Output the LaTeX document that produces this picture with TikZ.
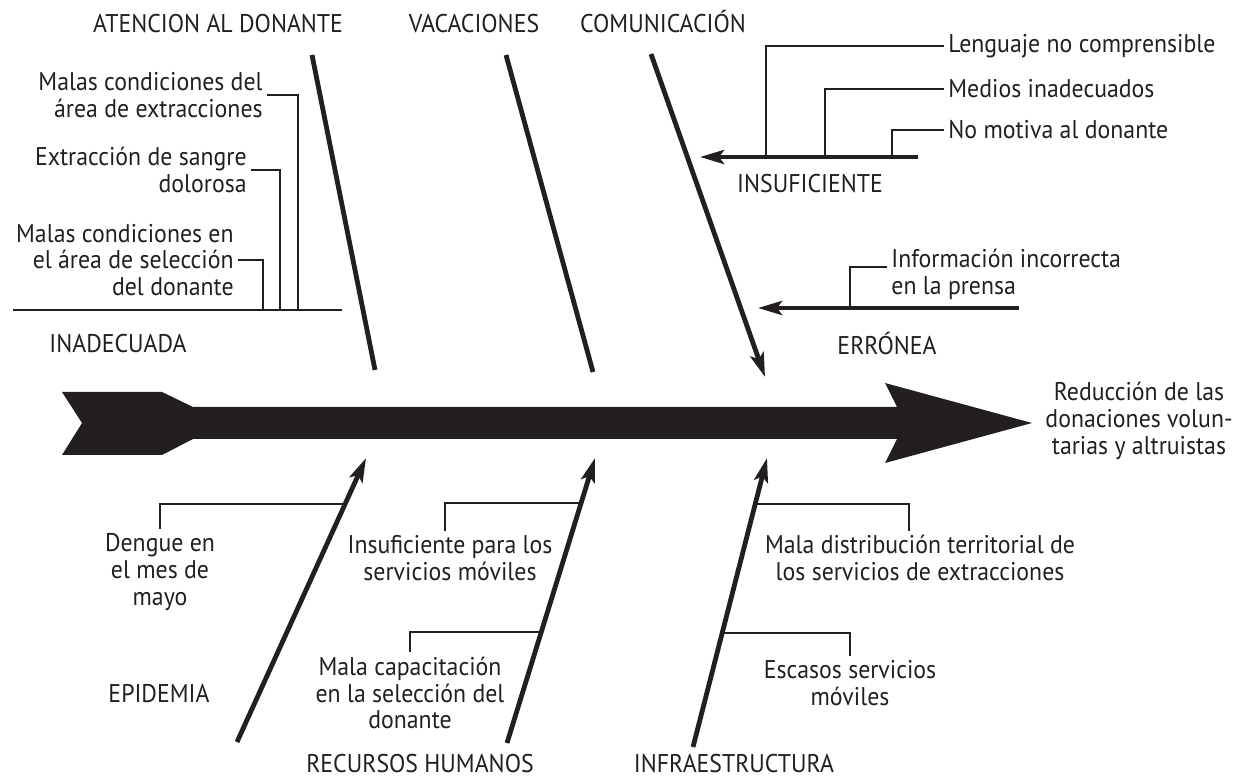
\documentclass[tikz,border=0pt]{standalone}
\usepackage{fontspec}
\setmainfont{PT Sans}[FakeStretch=0.93]
\usetikzlibrary{arrows.meta,calc}
\definecolor{ink}{RGB}{35,31,32}

\begin{document}
\begin{tikzpicture}[x=0.5pt, y=-0.5pt,
        every node/.style={font=\fontsize{12.8pt}{13.4pt}\selectfont, text=ink, inner sep=2pt},
        bone/.style={draw=ink, line width=2.4pt},
        bonearrow/.style={bone, -{Stealth[length=12pt, width=7pt, inset=2.5pt]}},
        twig/.style={draw=ink, line width=1.1pt}]
        \useasboundingbox (0,0) rectangle (1240,779);
        % spine
        \fill[ink] (62,392) -- (162,392) -- (193,407) -- (897,407) -- (885,383) -- (1032,423)
            -- (885,463) -- (897,439) -- (193,439) -- (162,455) -- (62,455) -- (82,423) -- cycle;
        \node[align=center] (effect) at (1139,421) {Reducción de las\\donaciones volun-\\tarias y altruistas};
        % bone ends
        \coordinate (atS) at (312,55);
        \coordinate (atE) at (375,370);
        \coordinate (vaS) at (506,55);
        \coordinate (vaE) at (593,372);
        \coordinate (coS) at (651,54);
        \coordinate (coE) at (765,377);
        \coordinate (epS) at (237,742);
        \coordinate (epE) at (366,458);
        \coordinate (rhS) at (507,743);
        \coordinate (rhE) at (595,458);
        \coordinate (inS) at (693,747);
        \coordinate (inE) at (767,458);
        \draw[bone] (atS) -- (atE);
        \draw[bone] (vaS) -- (vaE);
        \draw[bonearrow] (coS) -- (coE);
        \draw[bonearrow] (epS) -- (epE);
        \draw[bonearrow] (rhS) -- (rhE);
        \draw[bonearrow] (inS) -- (inE);
        \foreach \x/\y/\name/\txt in {218/33/catAt/ATENCION AL DONANTE, 474/33/catVa/VACACIONES,
            663/33/catCo/COMUNICACIÓN, 118/353/catIna/INADECUADA, 810/193/catIns/INSUFICIENTE,
            887/355/catErr/ERRÓNEA, 159/702/catEp/EPIDEMIA, 420/772/catRh/RECURSOS HUMANOS,
            734/772/catInf/INFRAESTRUCTURA}
            \node[anchor=base] (\name) at (\x,\y) {\txt};
        % atencion al donante
        \coordinate (inaL) at (13,310);
        \coordinate (inaR) at (342,310);
        \draw[twig] (inaL) -- (inaR);
        \node[anchor=east, align=right] (at1) at (267,95) {Malas condiciones del\\área de extracciones};
        \node[anchor=east, align=right] (at2) at (251,170) {Extracción de sangre\\dolorosa};
        \node[anchor=east, align=right] (at3) at (238,260) {Malas condiciones en\\el área de selección\\del donante};
        \coordinate (ft1) at (298,310);
        \coordinate (ft2) at (280,310);
        \coordinate (ft3) at (263,310);
        \draw[twig] (ft1) |- (at1.east);
        \draw[twig] (ft2) |- (at2.east);
        \draw[twig] (ft3) |- (at3.east);
        % comunicacion
        \coordinate (insR) at (918,157);
        \coordinate (insL) at (700,157);
        \draw[bonearrow, line width=2.2pt] (insR) -- (insL);
        \node[anchor=west] (co1) at (944,46) {Lenguaje no comprensible};
        \node[anchor=west] (co2) at (944,89) {Medios inadecuados};
        \node[anchor=west] (co3) at (944,130) {No motiva al donante};
        \coordinate (fc1) at (766,157);
        \coordinate (fc2) at (825,157);
        \coordinate (fc3) at (892,157);
        \draw[twig] (fc1) |- (co1.west);
        \draw[twig] (fc2) |- (co2.west);
        \draw[twig] (fc3) |- (co3.west);
        \coordinate (errR) at (1019,308);
        \coordinate (errL) at (758,308);
        \draw[bonearrow, line width=2.2pt] (errR) -- (errL);
        \node[anchor=west, align=left] (co4) at (887,274) {Información incorrecta\\en la prensa};
        \coordinate (fc4) at (850,308);
        \draw[twig] (fc4) |- ([yshift=3.5pt]co4.west);
        % bottom bones
        \node[align=center] (ep1) at (160,572) {Dengue en\\el mes de\\mayo};
        \node[align=center] (rh1) at (450,558) {Insuficiente para los\\servicios móviles};
        \node[align=center] (rh2) at (410,693) {Mala capacitación\\en la selección del\\donante};
        \node[align=center] (in1) at (920,558) {Mala distribución territorial de\\los servicios de extracciones};
        \node[align=center] (in2) at (850,683) {Escasos servicios\\móviles};
        \draw[twig] (ep1.north) |- ($(epS)!0.838!(epE)$);
        \draw[twig] ([xshift=-2.5pt]rh1.north) |- ($(rhS)!0.842!(rhE)$);
        \draw[twig] (rh2.north) |- ($(rhS)!0.389!(rhE)$);
        \draw[twig] ([xshift=-5.5pt]in1.north) |- ($(inS)!0.841!(inE)$);
        \draw[twig] (in2.north) |- ($(inS)!0.394!(inE)$);
    \end{tikzpicture}
\end{document}
